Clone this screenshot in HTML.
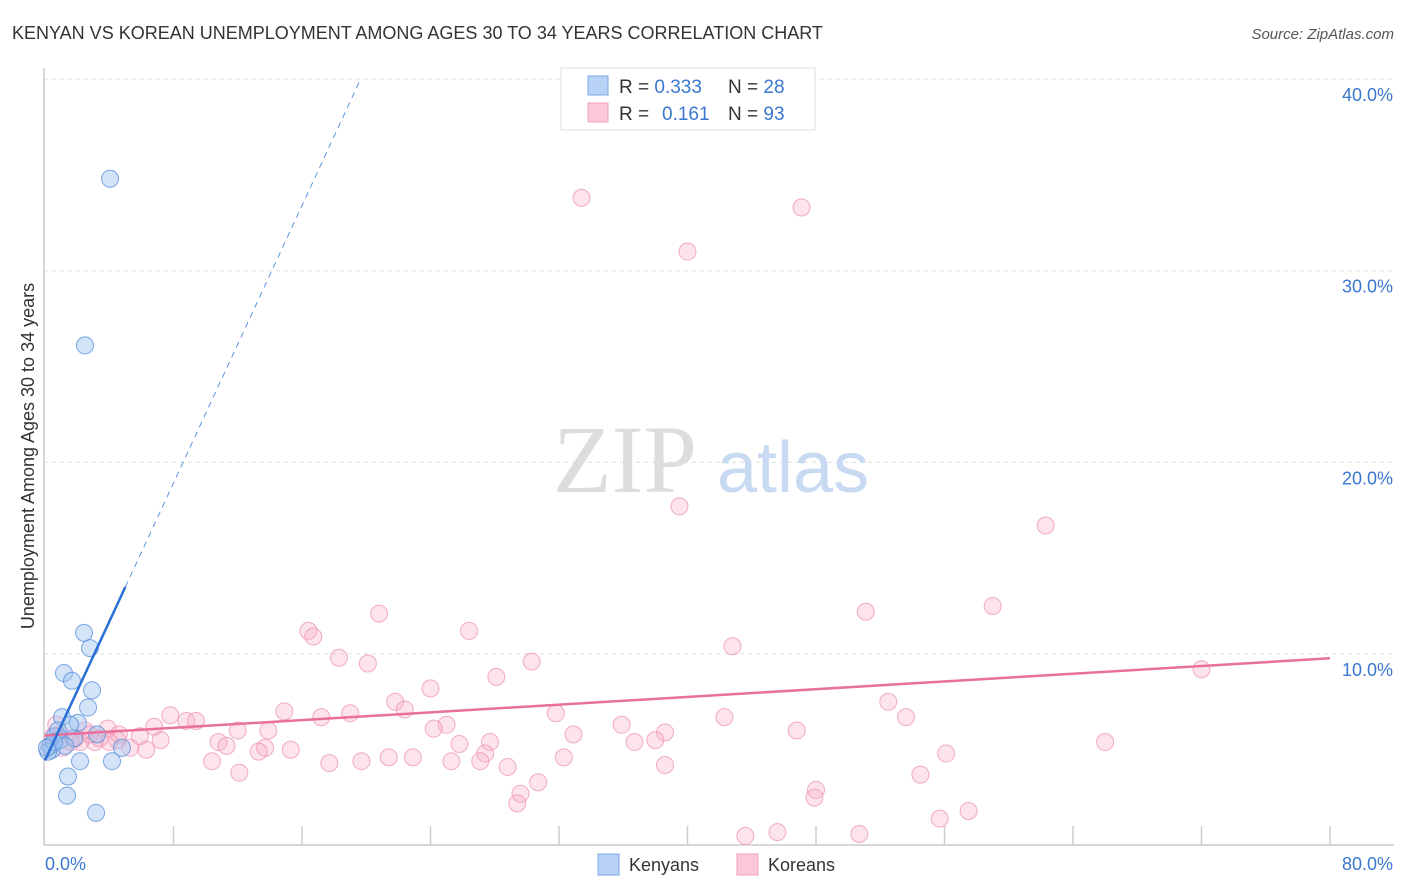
<!DOCTYPE html>
<html><head><meta charset="utf-8">
<style>
html,body{margin:0;padding:0;background:#fff;}
svg{display:block;font-family:"Liberation Sans",sans-serif;}
</style></head>
<body>
<svg id="chart" width="1406" height="892">
  <text x="12" y="39" font-size="18" fill="#333">KENYAN VS KOREAN UNEMPLOYMENT AMONG AGES 30 TO 34 YEARS CORRELATION CHART</text>
  <text x="1394" y="39" font-size="15" fill="#555" font-style="italic" text-anchor="end">Source: ZipAtlas.com</text>
  <g id="grid"></g>
  <g>
    <text x="553" y="492" font-family="Liberation Serif,serif" font-size="96" fill="#ddd">ZIP</text>
    <text x="717" y="492" font-size="72" fill="#c8daf2">atlas</text>
  </g>
  <line x1="44" y1="68" x2="44" y2="845" stroke="#ccc" stroke-width="1.5"/>
  <line x1="44" y1="845" x2="1394" y2="845" stroke="#ccc" stroke-width="1.5"/>
  <g id="xticks"></g>
  <text x="45" y="870" font-size="18" fill="#3a78d0">0.0%</text>
  <text x="1393" y="870" font-size="18" fill="#3a78d0" text-anchor="end">80.0%</text>
  <text transform="translate(34,456) rotate(-90)" font-size="18" fill="#333" text-anchor="middle">Unemployment Among Ages 30 to 34 years</text>
  <g id="pts"></g>
  <g id="lines"></g>
  <g>
    <rect x="561" y="68" width="254" height="62" fill="#fff" stroke="#ddd"/>
    <rect x="588" y="76" width="20" height="19" fill="#b8d3f5" stroke="#7aa8e6"/>
    <rect x="588" y="103" width="20" height="19" fill="#fbc8d8" stroke="#f0a0bb"/>
    <text x="619" y="93" font-size="19" fill="#333">R = <tspan fill="#3a78d0">0.333</tspan><tspan x="728">N = </tspan><tspan fill="#3a78d0">28</tspan></text>
    <text x="619" y="120" font-size="19" fill="#333">R = <tspan x="662" fill="#3a78d0">0.161</tspan><tspan x="728">N = </tspan><tspan fill="#3a78d0">93</tspan></text>
  </g>
  <g>
    <rect x="598" y="854" width="21" height="21" fill="#b8d3f5" stroke="#7aa8e6"/>
    <text x="629" y="871" font-size="18" fill="#333">Kenyans</text>
    <rect x="737" y="854" width="21" height="21" fill="#fbc8d8" stroke="#f0a0bb"/>
    <text x="768" y="871" font-size="18" fill="#333">Koreans</text>
  </g>
</svg>
<script>
const yTicks = [10, 20, 30, 40];
const yTickLabels = ["10.0%", "20.0%", "30.0%", "40.0%"];
const xTicks = [8, 16, 24, 32, 40, 48, 56, 64, 72, 80];
const kenX = [4.05,2.49,2.43,2.8,1.18,1.68,2.93,2.68,1.06,2.05,0.62,0.93,1.81,0.31,0.44,0.19,1.25,3.24,4.79,4.17,2.18,1.43,1.37,3.18,0.81,1.56,0.56,0.12];
const kenY = [34.8,26.1,11.1,10.3,9.0,8.6,8.1,7.2,6.7,6.4,5.7,5.5,5.6,5.2,5.0,4.9,5.2,5.8,5.1,4.4,4.4,3.6,2.6,1.7,6.0,6.3,5.4,5.1];
const korX = [33.4,47.1,40.0,39.5,62.3,59.0,51.1,20.8,16.4,16.7,26.4,42.8,18.3,20.1,30.3,28.1,72.0,24.0,21.8,52.5,22.4,14.9,19.0,7.8,17.2,42.3,53.6,8.8,31.8,9.4,6.8,25.0,12.0,35.9,24.2,13.9,3.9,46.8,38.6,1.0,4.6,5.9,25.8,32.9,27.7,10.8,38.0,36.7,66.0,3.1,7.2,11.3,13.7,15.3,6.3,5.3,2.2,4.5,13.3,27.4,56.1,32.3,19.7,17.7,22.9,21.4,25.3,27.1,10.4,28.8,38.6,12.1,54.5,30.7,48.0,47.9,29.6,29.4,57.5,55.7,45.6,43.6,50.7,1.6,0.7,0.3,0.5,1.1,3.4,2.5,1.9,4.0,2.8];
const korY = [33.8,33.3,31.0,17.7,16.7,12.5,12.2,12.1,11.2,10.9,11.2,10.4,9.8,9.5,9.6,8.8,9.2,8.2,7.5,7.5,7.1,7.0,6.9,6.8,6.7,6.7,6.7,6.5,6.9,6.5,6.2,6.3,6.0,6.3,6.1,6.0,6.1,6.0,5.9,5.8,5.8,5.7,5.3,5.8,5.4,5.4,5.5,5.4,5.4,5.4,5.5,5.2,5.1,5.0,5.0,5.1,5.4,5.5,4.9,4.8,4.8,4.6,4.4,4.3,4.6,4.6,4.4,4.4,4.4,4.1,4.2,3.8,3.7,3.3,2.9,2.5,2.7,2.2,1.8,1.4,0.7,0.5,0.6,5.4,6.3,5.2,5.7,5.1,5.6,6.0,5.6,5.4,5.8];
const kenTrend = [4.44, 1.81];   // intercept, slope
const kenSolidEnd = 5.0;
const korTrend = [5.74, 9.77];   // y at x=0, y at x=80

const X0 = 45, PXX = 1285/80, Y0 = 845.5, PXY = 19.16;
const sx = v => X0 + v*PXX;
const sy = v => Y0 - v*PXY;
const NS = "http://www.w3.org/2000/svg";
function mk(tag, attrs, parent){ const e=document.createElementNS(NS,tag); for(const k in attrs) e.setAttribute(k,attrs[k]); parent.appendChild(e); return e; }

const grid = document.getElementById('grid');
yTicks.forEach((t,i)=>{
  const l = mk('line',{x1:44,x2:1394,y1:sy(t),y2:sy(t),stroke:'#ddd','stroke-dasharray':'4,4'},grid);
  
  
  const tx = mk('text',{x:1393,y:sy(t)+22,'font-size':18,fill:'#3a78d0','text-anchor':'end'},grid);
  tx.textContent = yTickLabels[i];
  
  
});
const xt = document.getElementById('xticks');
xTicks.forEach(t=>{
  const l = mk('line',{x1:sx(t),x2:sx(t),y1:826,y2:845,stroke:'#ccc','stroke-width':1.5},xt);
  
  
});
const pts = document.getElementById('pts');
korX.forEach((x,i)=>{
  const c = mk('circle',{cx:sx(x),cy:sy(korY[i]),r:8.5,fill:'rgba(246,175,200,0.35)',stroke:'rgba(236,140,175,0.7)','stroke-width':1},pts);
  
  
});
kenX.forEach((x,i)=>{
  const c = mk('circle',{cx:sx(x),cy:sy(kenY[i]),r:8.5,fill:'rgba(160,196,240,0.45)',stroke:'rgba(90,145,220,0.8)','stroke-width':1},pts);
  
  
});
const lines = document.getElementById('lines');
const kl = mk('line',{x1:sx(0),y1:sy(korTrend[0]),x2:sx(80),y2:sy(korTrend[1]),stroke:'#e8709a','stroke-width':2.5},lines);


const kenAt = x => kenTrend[0] + kenTrend[1]*x;
const ks = mk('line',{x1:sx(0),y1:sy(kenAt(0)),x2:sx(kenSolidEnd),y2:sy(kenAt(kenSolidEnd)),stroke:'#2a6fd6','stroke-width':2.5},lines);


const xEnd = (40 - kenTrend[0]) / kenTrend[1];
const kd = mk('line',{x1:sx(kenSolidEnd),y1:sy(kenAt(kenSolidEnd)),x2:sx(xEnd),y2:sy(40),stroke:'#5b93e0','stroke-width':1,'stroke-dasharray':'6,5'},lines);


</script>
</body></html>
